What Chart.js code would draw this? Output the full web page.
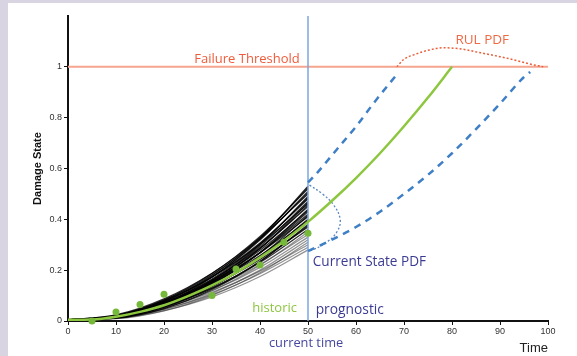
<!DOCTYPE html>
<html>
<head>
<meta charset="utf-8">
<script src="https://cdn.jsdelivr.net/npm/chart.js@4/dist/chart.umd.min.js"></script>
<style>
  html, body { margin: 0; padding: 0; background: #d8d4e2; }
  #wrap { position: relative; width: 577px; height: 356px; }
  #panel { position: absolute; left: 8px; top: 3px; width: 569px; height: 353px; background: #ffffff; }
  canvas { position: absolute; left: 0; top: 0; }
</style>
</head>
<body>
<div id="wrap"><div id="panel"></div><canvas id="c" width="577" height="356"></canvas></div>
<script>
// ---- data ----
const xTicks = [0, 10, 20, 30, 40, 50, 60, 70, 80, 90, 100];
const yTicks = [0, 0.2, 0.4, 0.6, 0.8, 1];

// measured (historic) damage observations
const obsTime   = [5, 10, 15, 20, 30, 35, 40, 45, 50];
const obsDamage = [0.0, 0.035, 0.065, 0.105, 0.10, 0.205, 0.22, 0.31, 0.345];

// fitted / predicted mean damage path
const meanTime   = [0, 5, 10, 15, 20, 25, 30, 35, 40, 45, 50, 55, 60, 65, 70, 75, 80];
const meanDamage = [0.005, 0.006, 0.017, 0.036, 0.062, 0.098, 0.14, 0.19, 0.25, 0.316, 0.39, 0.473, 0.5625, 0.66, 0.766, 0.879, 1.0];

// ensemble of historic damage trajectories (times 0..50)
const ensTime = [0, 10, 20, 30, 40, 50];
const ensCurves = [
  [0.005, 0.015, 0.068, 0.172, 0.324, 0.53],
  [0.005, 0.018, 0.077, 0.179, 0.329, 0.525],
  [0.005, 0.021, 0.083, 0.187, 0.333, 0.52],
  [0.005, 0.017, 0.074, 0.174, 0.319, 0.51],
  [0.005, 0.020, 0.081, 0.182, 0.323, 0.505],
  [0.005, 0.024, 0.087, 0.188, 0.327, 0.50],
  [0.005, 0.014, 0.063, 0.159, 0.300, 0.49],
  [0.005, 0.016, 0.071, 0.165, 0.304, 0.485],
  [0.005, 0.019, 0.077, 0.173, 0.307, 0.48],
  [0.005, 0.016, 0.069, 0.160, 0.294, 0.47],
  [0.005, 0.013, 0.060, 0.151, 0.285, 0.465],
  [0.005, 0.022, 0.080, 0.173, 0.301, 0.46],
  [0.005, 0.015, 0.066, 0.155, 0.285, 0.455],
  [0.005, 0.018, 0.072, 0.162, 0.288, 0.45],
  [0.005, 0.013, 0.057, 0.143, 0.269, 0.44],
  [0.005, 0.017, 0.070, 0.157, 0.278, 0.435],
  [0.005, 0.015, 0.063, 0.147, 0.269, 0.43],
  [0.005, 0.017, 0.067, 0.151, 0.269, 0.42],
  [0.005, 0.012, 0.054, 0.135, 0.254, 0.415],
  [0.005, 0.019, 0.071, 0.154, 0.268, 0.41],
  [0.005, 0.014, 0.058, 0.136, 0.250, 0.40],
  [0.005, 0.019, 0.069, 0.149, 0.258, 0.395],
  [0.005, 0.016, 0.062, 0.140, 0.250, 0.39],
  [0.005, 0.011, 0.049, 0.124, 0.233, 0.38],
  [0.005, 0.013, 0.055, 0.128, 0.235, 0.375],
  [0.005, 0.017, 0.064, 0.139, 0.242, 0.37],
  [0.005, 0.014, 0.058, 0.130, 0.230, 0.36],
  [0.005, 0.012, 0.051, 0.119, 0.219, 0.35],
  [0.005, 0.016, 0.059, 0.128, 0.222, 0.34],
  [0.005, 0.013, 0.053, 0.119, 0.211, 0.33],
  [0.005, 0.011, 0.047, 0.109, 0.200, 0.32],
  [0.005, 0.009, 0.040, 0.101, 0.190, 0.31],
  [0.005, 0.014, 0.052, 0.113, 0.196, 0.30],
  [0.005, 0.012, 0.046, 0.104, 0.186, 0.29],
  [0.005, 0.010, 0.041, 0.095, 0.175, 0.28]
];

// prognostic bounds
const upperTime = [50, 52, 56, 60, 64, 68.5];
const upperDamage = [0.545, 0.585, 0.675, 0.765, 0.865, 0.97];
const lowerTime = [50, 55, 60, 65, 70, 75, 80, 85, 90, 95, 96.3];
const lowerDamage = [0.275, 0.32, 0.37, 0.43, 0.50, 0.575, 0.66, 0.755, 0.855, 0.96, 0.98];

// current-state PDF outline (drawn at t = 50)
const csPdfTime = [50.3, 53, 55.2, 56.7, 56, 53.9, 51, 50];
const csPdfDamage = [0.535, 0.50, 0.46, 0.40, 0.35, 0.31, 0.28, 0.275];

// RUL PDF outline (drawn above threshold)
const rulTime = [68.5, 70, 72, 75, 78, 82, 86, 90, 93, 96, 99];
const rulValue = [1.0, 1.03, 1.047, 1.065, 1.075, 1.07, 1.055, 1.04, 1.027, 1.012, 1.0];

const failureThreshold = 1.0;
const currentTime = 50;
const yMax = 1.2;

// text annotations (data coordinates)
const labels = [
  { text: 'Failure Threshold', t: 37.3, v: 1.03, color: '#ee5b3b', align: 'center', size: 13 },
  { text: 'RUL PDF', t: 86.3, v: 1.105, color: '#ee6a45', align: 'center', size: 13.5 },
  { text: 'Current State PDF', t: 51, v: 0.23, color: '#3b3b94', align: 'left', size: 13.6 },
  { text: 'historic', t: 47.7, v: 0.05, color: '#8dc63f', align: 'right', size: 13 },
  { text: 'prognostic', t: 51.6, v: 0.043, color: '#3b3b94', align: 'left', size: 13.8 },
  { text: 'current time', t: 49.6, v: -0.087, color: '#4646a0', align: 'center', size: 12.8 }
];

// ---- build datasets ----
const pts = (xs, ys) => xs.map((x, i) => ({ x: x, y: ys[i] }));

const datasets = [];
datasets.push({ data: pts(obsTime, obsDamage), showLine: false, pointRadius: 3.5, pointBackgroundColor: '#76b83a', pointBorderWidth: 0, clip: false });
datasets.push({ data: pts(meanTime, meanDamage), borderColor: '#8dc63f', borderWidth: 2.5, pointRadius: 0, cubicInterpolationMode: 'monotone' });
datasets.push({ data: pts(upperTime, upperDamage), borderColor: '#3f7fc6', borderWidth: 2.5, borderDash: [7, 6], pointRadius: 0, cubicInterpolationMode: 'monotone' });
datasets.push({ data: pts(lowerTime, lowerDamage), borderColor: '#3f7fc6', borderWidth: 2.5, borderDash: [7, 6], pointRadius: 0, cubicInterpolationMode: 'monotone' });
datasets.push({ data: pts(csPdfTime, csPdfDamage), borderColor: '#5a86c0', borderWidth: 1.3, borderDash: [2, 2], pointRadius: 0, tension: 0.4 });
datasets.push({ data: pts(rulTime, rulValue), borderColor: '#e8603c', borderWidth: 1.5, borderDash: [2, 2], pointRadius: 0, cubicInterpolationMode: 'monotone' });
datasets.push({ data: pts([currentTime, currentTime], [0, yMax]), borderColor: '#7ba6e3', borderWidth: 1.5, pointRadius: 0 });
ensCurves.forEach((c) => {
  const end = c[c.length - 1];
  datasets.push({ data: pts(ensTime, c), borderColor: end >= 0.355 ? 'rgba(0,0,0,0.82)' : 'rgba(40,40,40,0.5)', borderWidth: 1.25, pointRadius: 0, cubicInterpolationMode: 'monotone' });
});
datasets.push({ data: pts([0, 100], [failureThreshold, failureThreshold]), borderColor: '#f6a58f', borderWidth: 2, pointRadius: 0 });

const textPlugin = {
  id: 'texts',
  afterDatasetsDraw(chart) {
    const ctx = chart.ctx;
    const xs = chart.scales.x, ys = chart.scales.y;
    ctx.save();
    labels.forEach(l => {
      ctx.font = l.size + 'px "Open Sans", Lato, sans-serif';
      ctx.fillStyle = l.color;
      ctx.textAlign = l.align;
      ctx.textBaseline = 'middle';
      ctx.fillText(l.text, xs.getPixelForValue(l.t), ys.getPixelForValue(l.v));
    });
    ctx.restore();
  }
};

new Chart(document.getElementById('c'), {
  type: 'line',
  data: { datasets: datasets },
  options: {
    responsive: false,
    animation: false,
    layout: { padding: { left: 8, top: 16, right: 29, bottom: 0 } },
    plugins: { legend: { display: false }, tooltip: { enabled: false } },
    scales: {
      x: {
        type: 'linear', min: 0, max: 100,
        afterBuildTicks: s => { s.ticks = xTicks.map(v => ({ value: v })); },
        afterFit: s => { s.height = 35; },
        border: { color: '#111', width: 2 },
        grid: { drawOnChartArea: false, color: '#111', tickLength: 4 },
        ticks: { color: '#333', font: { family: 'Liberation Sans', size: 9 }, padding: 1, maxRotation: 0 },
        title: { display: true, text: 'Time', align: 'end', color: '#222', font: { family: 'Liberation Sans', size: 13 }, padding: { top: 2, bottom: 0 } }
      },
      y: {
        type: 'linear', min: 0, max: yMax,
        afterBuildTicks: s => { s.ticks = yTicks.map(v => ({ value: v })); },
        afterFit: s => { s.width = 60; },
        border: { color: '#111', width: 2 },
        grid: { drawOnChartArea: false, color: '#111', tickLength: 4 },
        ticks: { color: '#333', font: { family: 'Liberation Sans', size: 9 }, padding: 2, callback: v => String(v) },
        title: { display: true, text: 'Damage State', color: '#111', font: { family: 'Liberation Sans', size: 11, weight: 'bold' }, padding: { top: 23, bottom: 0 } }
      }
    }
  },
  plugins: [textPlugin]
});
</script>
</body>
</html>
